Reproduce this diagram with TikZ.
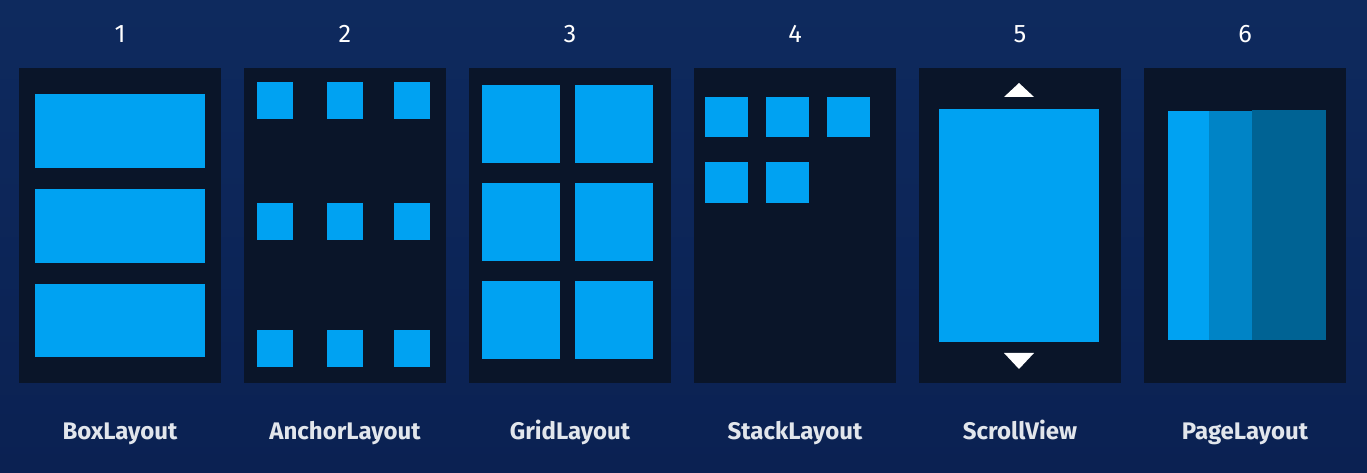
\documentclass[tikz,border=0pt]{standalone}
\usepackage{fontspec}
\setmainfont{Fira Sans}
\usepackage{xcolor}
\usetikzlibrary{calc, positioning}

\definecolor{bgnavy}{HTML}{0B2152}
\definecolor{bgnavytop}{HTML}{0E2A5E}
\definecolor{panelbg}{HTML}{0A1529}
\definecolor{tileblue}{HTML}{00A2F2}
\definecolor{tilemid}{HTML}{0084C6}
\definecolor{tiledark}{HTML}{006394}
\definecolor{labelgray}{HTML}{E2E6EC}

\tikzset{
    panel/.style={fill=panelbg},
    tile/.style={fill=tileblue},
    numlabel/.style={text=white, anchor=base, inner sep=0pt, font=\fontsize{19}{19}\selectfont},
    namelabel/.style={text=labelgray, anchor=base, inner sep=0pt, font=\bfseries\fontsize{18}{18}\selectfont},
}

\begin{document}
\begin{tikzpicture}[x=0.75pt, y=-0.75pt]

    % =================================================================
    % 1. NỀN VÀ KHUNG HÌNH
    % =================================================================
    \useasboundingbox (0,0) rectangle (1367,473);
    \shade[top color=bgnavytop, bottom color=bgnavy] (0,0) rectangle (1367,473);

    % Góc trên bên trái của sáu ô
    \coordinate (P1) at (19,68);
    \coordinate (P2) at (244,68);
    \coordinate (P3) at (469,68);
    \coordinate (P4) at (694,68);
    \coordinate (P5) at (919,68);
    \coordinate (P6) at (1144,68);

    \foreach \p in {P1,P2,P3,P4,P5,P6}
        \fill[panel] (\p) rectangle ++(202,315);

    % =================================================================
    % 2. NỘI DUNG TỪNG Ô
    % =================================================================
    % Ô 1: ba thanh ngang
    \begin{scope}[shift={(P1)}]
        \foreach \ya/\yb in {26/100, 121/195, 216/289}
            \fill[tile] (16,\ya) rectangle (186,\yb);
    \end{scope}

    % Ô 2: chín ô vuông nhỏ neo theo cạnh
    \begin{scope}[shift={(P2)}]
        \foreach \xa in {13, 83, 150}
            \foreach \ya in {14, 135, 262}
                \fill[tile] (\xa,\ya) rectangle ++(36,37);
    \end{scope}

    % Ô 3: lưới 2 x 3
    \begin{scope}[shift={(P3)}]
        \foreach \xa in {13, 106}
            \foreach \ya in {17, 115, 213}
                \fill[tile] (\xa,\ya) rectangle ++(78,78);
    \end{scope}

    % Ô 4: xếp chồng
    \begin{scope}[shift={(P4)}]
        \foreach \xa in {11, 72, 133}
            \fill[tile] (\xa,29) rectangle ++(43,40);
        \foreach \xa in {11, 72}
            \fill[tile] (\xa,94) rectangle ++(43,41);
    \end{scope}

    % Ô 5: khung cuộn với hai mũi tên
    \begin{scope}[shift={(P5)}]
        \fill[tile] (20,41) rectangle (180,274);
        \fill[white] (100,15) -- (115,29) -- (85,29) -- cycle;
        \fill[white] (85,285) -- (115,285) -- (100,301) -- cycle;
    \end{scope}

    % Ô 6: các trang chồng lên nhau
    \begin{scope}[shift={(P6)}]
        \fill[tiledark] (108,42) rectangle (182,272);
        \fill[tilemid] (65,43) rectangle (108,272);
        \fill[tileblue] (24,43) rectangle (65,272);
    \end{scope}

    % =================================================================
    % 3. NHÃN SỐ VÀ TÊN
    % =================================================================
    \foreach \p/\n/\name in {P1/1/BoxLayout, P2/2/AnchorLayout, P3/3/GridLayout,
                             P4/4/StackLayout, P5/5/ScrollView, P6/6/PageLayout} {
        \node[numlabel] (num\n) at ($(\p)+(101,-25)$) {\n};
        \node[namelabel] (name\n) at ($(\p)+(101,372)$) {\name};
    }

\end{tikzpicture}
\end{document}
